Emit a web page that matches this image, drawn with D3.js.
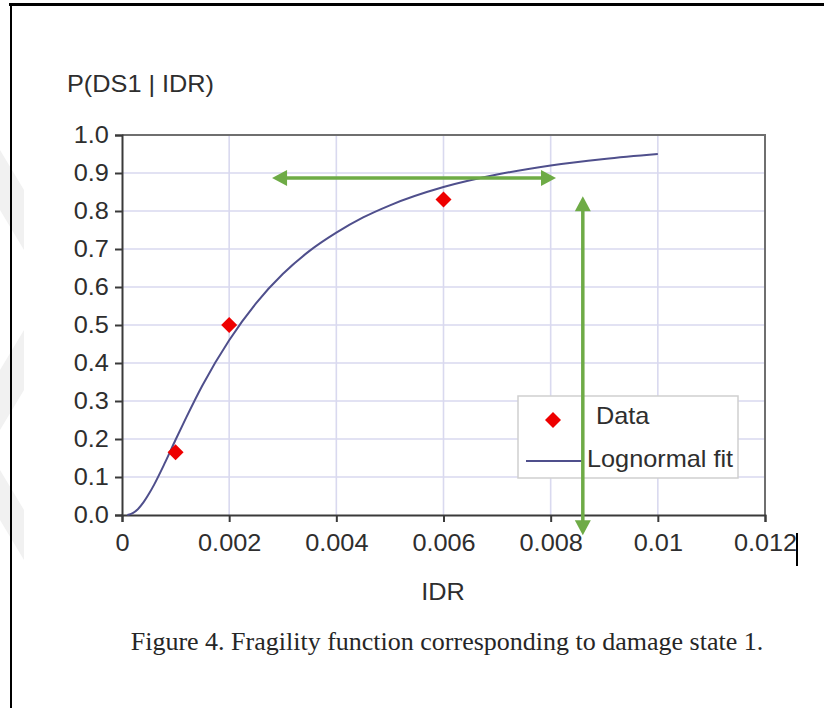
<!DOCTYPE html>
<html>
<head>
<meta charset="utf-8">
<script src="https://cdn.jsdelivr.net/npm/d3@7"></script>
<style>
  html, body { margin: 0; padding: 0; background: #fff; }
  svg { display: block; }
</style>
</head>
<body>
<svg id="chart" width="824" height="708"></svg>
<script>
// Fragility function for damage state 1: observed fractions and lognormal fit
const xTickValues = [0, 0.002, 0.004, 0.006, 0.008, 0.01, 0.012];
const xTickLabels = ["0", "0.002", "0.004", "0.006", "0.008", "0.01", "0.012"];
const yTickValues = [0, 0.1, 0.2, 0.3, 0.4, 0.5, 0.6, 0.7, 0.8, 0.9, 1.0];
const yTickLabels = ["0.0", "0.1", "0.2", "0.3", "0.4", "0.5", "0.6", "0.7", "0.8", "0.9", "1.0"];

const dataIDR = [0.001, 0.002, 0.006];
const dataP   = [0.165, 0.50, 0.83];

const fitIDR = [0.0001, 0.0002, 0.0003, 0.0004, 0.0005, 0.0006, 0.0008, 0.001, 0.0012, 0.0015,
                0.002, 0.0025, 0.003, 0.0035, 0.004, 0.0045, 0.005, 0.006, 0.007, 0.008, 0.009, 0.01];
const fitP   = [0.000, 0.005, 0.016, 0.033, 0.055, 0.080, 0.137, 0.198, 0.257, 0.341,
                0.460, 0.557, 0.634, 0.695, 0.743, 0.783, 0.815, 0.863, 0.896, 0.920, 0.937, 0.950];

const legendLabels = ["Data", "Lognormal fit"];

// Annotation arrows (data units)
const arrowAcross = [[0.0028, 0.887], [0.0081, 0.887]];
const arrowDown   = [[0.0086, 0.839], [0.0086, -0.053]];

const svg = d3.select("#chart");
const W = 824, H = 708;

const x = d3.scaleLinear().domain([0, 0.012]).range([122, 765]);
const y = d3.scaleLinear().domain([0, 1]).range([515, 135]);

const sansFont = "'Liberation Sans', Arial, sans-serif";
const textColor = "#2e2e2e";
const stretch = "scale(1.1,1)";

// faint watermark chevrons at the left margin
const wm = svg.append("g").attr("fill", "#f1f1f1");
[[[0, 150], [24, 190], [24, 250], [0, 210]],
 [[24, 330], [0, 370], [0, 430], [24, 390]],
 [[0, 470], [24, 510], [24, 560], [0, 520]]].forEach(p =>
  wm.append("polygon").attr("points", p.map(d => d.join(",")).join(" ")));

// page frame
svg.append("line").attr("x1", 9).attr("x2", W).attr("y1", 4.5).attr("y2", 4.5)
  .attr("stroke", "#000").attr("stroke-width", 3);
svg.append("line").attr("x1", 11).attr("x2", 11).attr("y1", 3).attr("y2", H)
  .attr("stroke", "#000").attr("stroke-width", 2);

// grid
const grid = svg.append("g").attr("stroke", "#d9d9ef").attr("stroke-width", 1.6);
grid.selectAll("line.h").data(yTickValues.slice(1, -1)).join("line")
  .attr("x1", x(0)).attr("x2", x(0.012))
  .attr("y1", d => y(d)).attr("y2", d => y(d));
grid.selectAll("line.v").data(xTickValues.slice(1, -1)).join("line")
  .attr("y1", y(0)).attr("y2", y(1))
  .attr("x1", d => x(d)).attr("x2", d => x(d));

// plot border (top and right)
svg.append("path")
  .attr("d", `M${x(0)},${y(1)}H${x(0.012)}V${y(0)}`)
  .attr("fill", "none").attr("stroke", "#6f6f6f").attr("stroke-width", 2);

// axes
const yAxis = svg.append("g").attr("transform", `translate(${x(0)},0)`)
  .call(d3.axisLeft(y).tickValues(yTickValues).tickSize(7).tickPadding(5)
    .tickFormat((d, i) => yTickLabels[i]));
const xAxis = svg.append("g").attr("transform", `translate(0,${y(0)})`)
  .call(d3.axisBottom(x).tickValues(xTickValues).tickSize(7).tickPadding(13)
    .tickFormat((d, i) => xTickLabels[i]));
[yAxis, xAxis].forEach(g => {
  g.select(".domain").attr("stroke", "#3a3a3a").attr("stroke-width", 2);
  g.selectAll(".tick line").attr("stroke", "#3a3a3a").attr("stroke-width", 2);
  g.selectAll(".tick text").attr("fill", textColor).attr("transform", stretch)
    .style("font-family", sansFont).style("font-size", "23px");
});

// fitted curve
const pts = fitIDR.map((v, i) => [v, fitP[i]]);
svg.append("path").datum(pts)
  .attr("d", d3.line().x(d => x(d[0])).y(d => y(d[1])).curve(d3.curveMonotoneX))
  .attr("fill", "none").attr("stroke", "#4f4f8c").attr("stroke-width", 2);

// observed points
const diamond = d3.symbol().type(d3.symbolSquare).size(128);
svg.selectAll("path.pt").data(dataIDR.map((v, i) => [v, dataP[i]])).join("path")
  .attr("class", "pt")
  .attr("d", diamond)
  .attr("transform", d => `translate(${x(d[0])},${y(d[1])}) rotate(45)`)
  .attr("fill", "#ee0000");

// helper for stretched sans labels
function label(parent, px, py, str, anchor = "start", size = 23) {
  return parent.append("text")
    .attr("transform", `translate(${px},${py}) ${stretch}`)
    .attr("text-anchor", anchor).attr("fill", textColor)
    .style("font-family", sansFont).style("font-size", size + "px")
    .text(str);
}

// legend
const lg = svg.append("g");
lg.append("rect").attr("x", 518).attr("y", 396).attr("width", 220).attr("height", 82)
  .attr("fill", "#fff").attr("stroke", "#cfcfcf").attr("stroke-width", 1.5);
lg.append("path").attr("d", diamond)
  .attr("transform", "translate(553,420) rotate(45)").attr("fill", "#ee0000");
label(lg, 596, 424, legendLabels[0]);
lg.append("line").attr("x1", 526).attr("x2", 582).attr("y1", 461).attr("y2", 461)
  .attr("stroke", "#4f4f8c").attr("stroke-width", 2);
label(lg, 587, 467, legendLabels[1]);

// axis titles
label(svg, 67, 92, "P(DS1 | IDR)");
label(svg, 443, 600, "IDR", "middle");

// green double-headed arrows
const green = "#6eab46";
function arrow(a, b) {
  const x1 = x(a[0]), y1 = y(a[1]), x2 = x(b[0]), y2 = y(b[1]);
  const ang = Math.atan2(y2 - y1, x2 - x1);
  const L = 15, Wd = 8;
  const g = svg.append("g");
  g.append("line")
    .attr("x1", x1 + Math.cos(ang) * L * 0.8).attr("y1", y1 + Math.sin(ang) * L * 0.8)
    .attr("x2", x2 - Math.cos(ang) * L * 0.8).attr("y2", y2 - Math.sin(ang) * L * 0.8)
    .attr("stroke", green).attr("stroke-width", 3.5);
  const head = (px, py, a0) => {
    const bx = px - Math.cos(a0) * L, by = py - Math.sin(a0) * L;
    const nx = -Math.sin(a0) * Wd, ny = Math.cos(a0) * Wd;
    g.append("polygon").attr("fill", green)
      .attr("points", `${px},${py} ${bx + nx},${by + ny} ${bx - nx},${by - ny}`);
  };
  head(x2, y2, ang);
  head(x1, y1, ang + Math.PI);
}
arrow(arrowAcross[0], arrowAcross[1]);
arrow(arrowDown[0], arrowDown[1]);

// text cursor after the last tick label
svg.append("line").attr("x1", 797).attr("x2", 797).attr("y1", 533).attr("y2", 566)
  .attr("stroke", "#000").attr("stroke-width", 2);

// caption
svg.append("text").attr("x", 447).attr("y", 650).attr("text-anchor", "middle")
  .text("Figure 4. Fragility function corresponding to damage state 1.")
  .attr("fill", "#262626")
  .style("font-family", "'Liberation Serif', 'Times New Roman', serif")
  .style("font-size", "26px");
</script>
</body>
</html>
